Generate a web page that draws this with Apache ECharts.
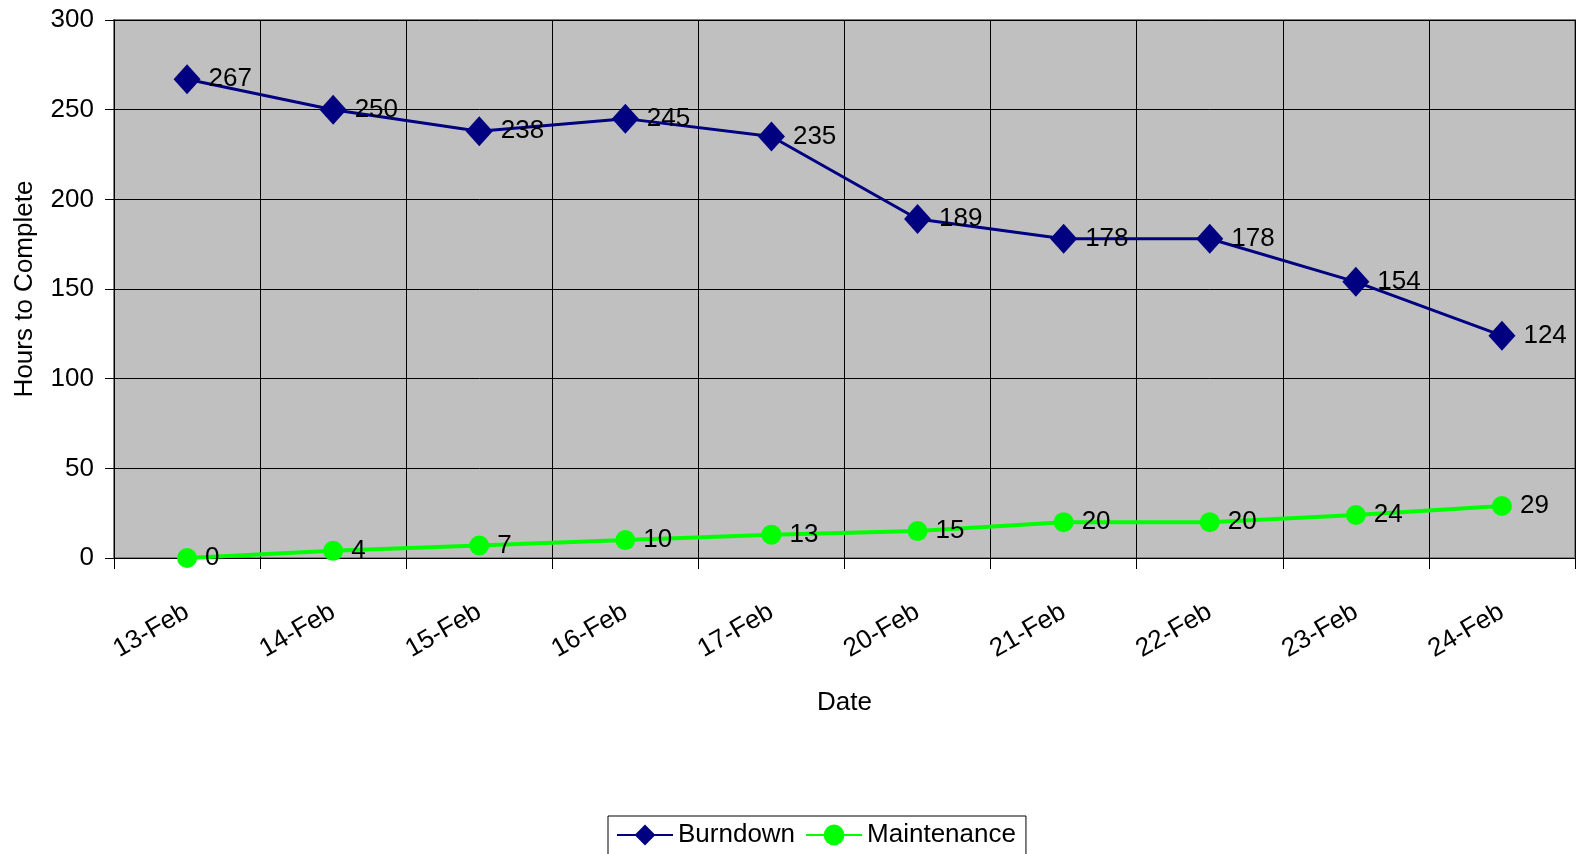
<!DOCTYPE html>
<html>
<head>
<meta charset="utf-8">
<script src="https://cdn.jsdelivr.net/npm/echarts@6/dist/echarts.min.js"></script>
<style>
  html, body { margin: 0; padding: 0; background: #fff; }
  #chart { width: 1585px; height: 854px; }
</style>
</head>
<body>
<div id="chart"></div>
<script>
const dates = ['13-Feb', '14-Feb', '15-Feb', '16-Feb', '17-Feb', '20-Feb', '21-Feb', '22-Feb', '23-Feb', '24-Feb']
const burndown = [267, 250, 238, 245, 235, 189, 178, 178, 154, 124]
const maintenance = [0, 4, 7, 10, 13, 15, 20, 20, 24, 29]

const font = 'Liberation Sans, Arial, sans-serif'
const chart = echarts.init(document.getElementById('chart'))

const labelStyle = {
    show: true,
    position: 'right',
    distance: 8,
    color: '#000',
    fontFamily: font,
    fontSize: 26
}

chart.setOption({
    animation: false,
    grid: {
        left: 114,
        top: 20,
        right: 10,
        bottom: 296,
        show: true,
        backgroundColor: '#C0C0C0',
        borderColor: '#808080',
        borderWidth: 2
    },
    legend: {
        bottom: -6,
        left: 608,
        itemWidth: 56,
        itemHeight: 26,
        itemGap: 10,
        padding: [6, 10, 12, 8],
        borderColor: '#000',
        borderWidth: 1,
        backgroundColor: '#fff',
        textStyle: { color: '#000', fontFamily: font, fontSize: 26 },
        data: ['Burndown', 'Maintenance']
    },
    xAxis: {
        type: 'category',
        data: dates,
        name: 'Date',
        nameLocation: 'middle',
        nameGap: 132,
        nameTextStyle: { color: '#000', fontFamily: font, fontSize: 26 },
        axisLine: { lineStyle: { color: '#000', width: 1 } },
        axisTick: { show: true, length: 11, lineStyle: { color: '#000' } },
        splitLine: { show: true, lineStyle: { color: '#000', width: 1 } },
        axisLabel: {
            rotate: 30,
            margin: 52,
            color: '#000',
            fontFamily: font,
            fontSize: 26
        }
    },
    yAxis: {
        type: 'value',
        min: 0,
        max: 300,
        interval: 50,
        name: 'Hours to Complete',
        nameLocation: 'middle',
        nameGap: 76,
        nameTextStyle: { color: '#000', fontFamily: font, fontSize: 26 },
        axisLine: { show: true, lineStyle: { color: '#000', width: 1 } },
        axisTick: { show: true, length: 9, lineStyle: { color: '#000' } },
        splitLine: { show: true, lineStyle: { color: '#000', width: 1 } },
        axisLabel: { margin: 20, color: '#000', fontFamily: font, fontSize: 26 }
    },
    series: [
        {
            name: 'Burndown',
            type: 'line',
            data: burndown,
            symbol: 'diamond',
            symbolSize: [27, 30],
            itemStyle: { color: '#000080' },
            lineStyle: { color: '#000080', width: 3 },
            label: labelStyle
        },
        {
            name: 'Maintenance',
            type: 'line',
            data: maintenance,
            symbol: 'circle',
            symbolSize: 20,
            itemStyle: { color: '#00FF00' },
            lineStyle: { color: '#00FF00', width: 4 },
            label: labelStyle
        }
    ]
})
</script>
</body>
</html>
